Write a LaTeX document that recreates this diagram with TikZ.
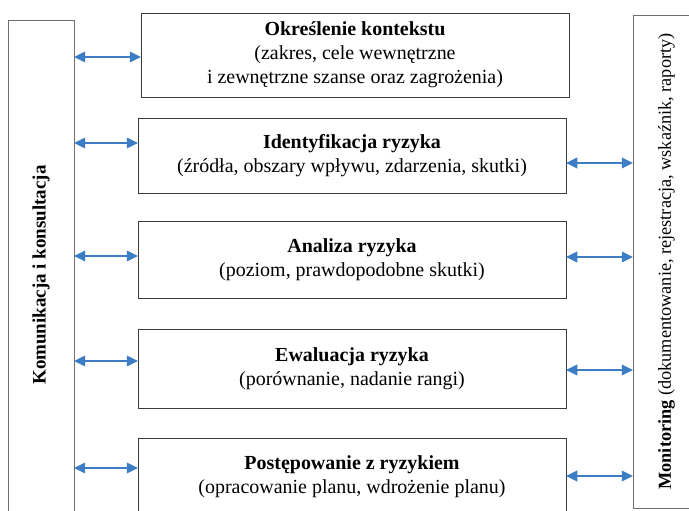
\documentclass[tikz,border=0pt]{standalone}
\usepackage{fontspec}
\setmainfont{Liberation Serif}
\usetikzlibrary{arrows.meta, positioning, calc}
\usepackage{xcolor}
\definecolor{linkblue}{HTML}{3C7DC4}
\definecolor{frame}{HTML}{3A3A3A}
\definecolor{sideframe}{HTML}{6E6E6E}

\begin{document}
\begin{tikzpicture}[
    box/.style={draw=frame, line width=0.7pt, minimum width=10.7cm, minimum height=1.95cm,
      inner sep=0pt, outer sep=0pt, align=center, font=\fontsize{14.2}{17}\selectfont},
    side/.style={draw=sideframe, line width=0.7pt, rotate=90, inner sep=0pt, outer sep=0pt},
    link/.style={{Triangle[length=8pt,width=7.5pt]}-{Triangle[length=8pt,width=7.5pt]}, line width=1.3pt, linkblue}
  ]
    \useasboundingbox (0,0) rectangle (17.225,12.75);

    % side bars
    \node[side, minimum width=12.75cm, minimum height=1.65cm, font=\fontsize{13.5}{16}\selectfont\bfseries]
      (komm) at (1.025,5.875) {Komunikacja i konsultacja};
    \node[side, minimum width=12.325cm, minimum height=1.675cm, font=\fontsize{13}{16}\selectfont]
      (monit) at (16.6625,6.2125) {\textbf{Monitoring} (dokumentowanie, rejestracja, wskaźnik, raporty)};

    % process steps
    \node[box, minimum height=2.1cm] (ctx) at (8.875,11.375)
      {\textbf{Określenie kontekstu}\\(zakres, cele wewnętrzne\\i zewnętrzne szanse oraz zagrożenia)};
    \node[box, minimum height=1.875cm] (ident) at (8.8,8.8625)
      {\textbf{Identyfikacja ryzyka}\\(źródła, obszary wpływu, zdarzenia, skutki)};
    \node[box, minimum height=1.925cm] (anal) at (8.8,6.2625)
      {\textbf{Analiza ryzyka}\\(poziom, prawdopodobne skutki)};
    \node[box, minimum height=1.975cm] (eval) at (8.8,3.5375)
      {\textbf{Ewaluacja ryzyka}\\(porównanie, nadanie rangi)};
    \node[box] (treat) at (8.8,0.825)
      {\textbf{Postępowanie z ryzykiem}\\(opracowanie planu, wdrożenie planu)};

    % links to communication
    \foreach \b/\y in {ctx/11.325, ident/9.175, anal/6.35, eval/3.725, treat/1.05} {
      \draw[link] (komm.south |- 0,\y) -- (\b.west |- 0,\y);
    }
    % links to monitoring
    \foreach \b/\y in {ident/8.675, anal/6.325, eval/3.5, treat/0.85} {
      \draw[link] (\b.east |- 0,\y) -- (monit.north |- 0,\y);
    }
  \end{tikzpicture}
\end{document}
